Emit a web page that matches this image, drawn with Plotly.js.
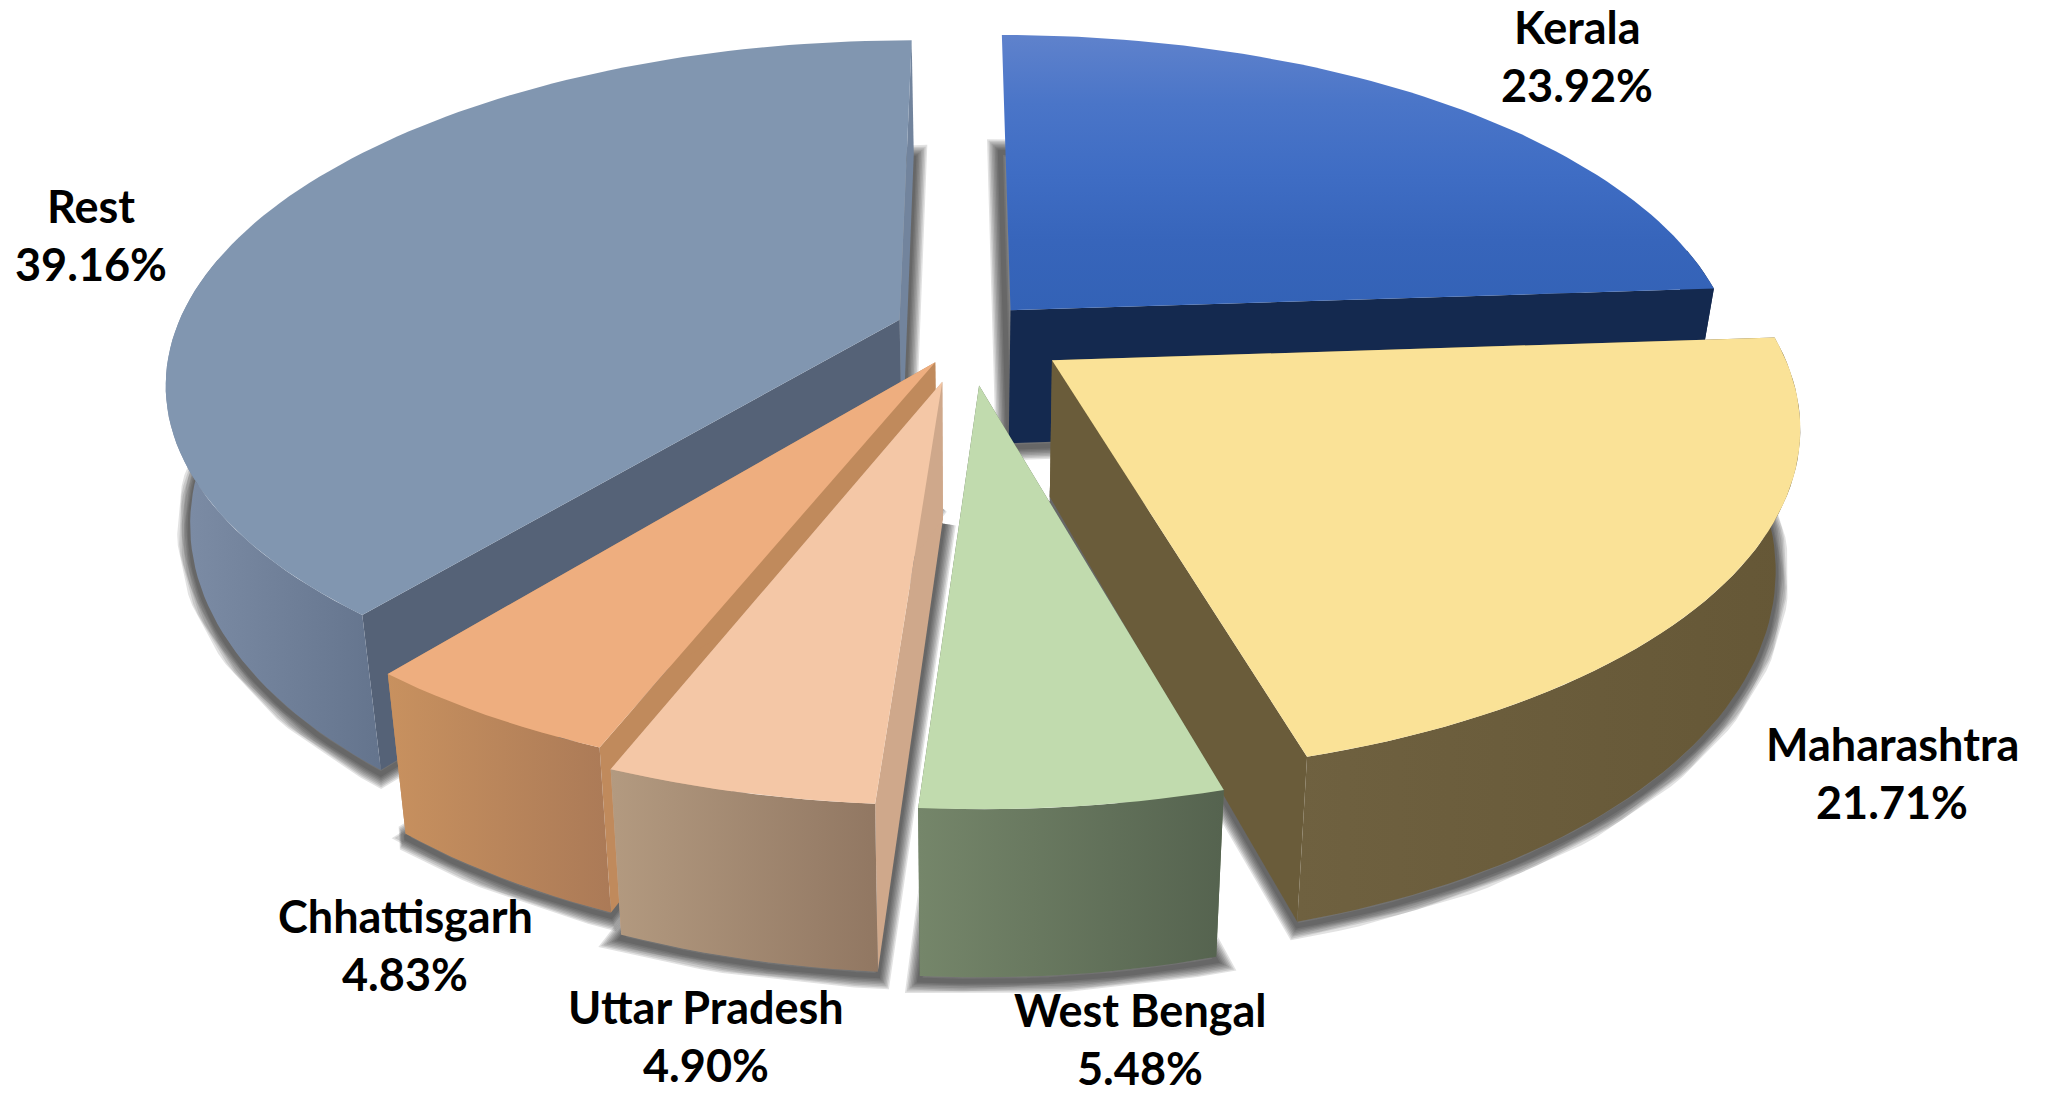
<!DOCTYPE html>
<html>
<head>
<meta charset="utf-8">
<script src="https://cdn.plot.ly/plotly-3.0.1.min.js"></script>
<style>html,body{margin:0;padding:0;background:#fff}#chart{width:2047px;height:1097px}</style>
</head>
<body>
<div id="chart"></div>
<script>
var categories = ['Kerala','Maharashtra','West Bengal','Uttar Pradesh','Chhattisgarh','Rest'];
var shares = [23.92,21.71,5.48,4.90,4.83,39.16];
var topColors = [['#3362b6','#3765bb','#3f6dc4','#4a75c8','#5f82cc'],['#fae297','#fae297'],['#c1dbae','#c1dbae'],['#f4c7a6','#f4c7a6'],['#eeae7f','#eeae7f'],['#8196b0','#8196b0']];
var arcColors = [['#14294f','#14294f'],['#6f6140','#655736'],['#75866a','#55634f'],['#b39a80','#917762'],['#c8915f','#ab7a57'],['#7e8ea7','#64748d']];
var startFace = [null,'#6a5c3a','#5a6a50','#cfa88b','#c08a5c','#556277'];
var endFace = ['#14294f','#6a5c3a','#5a6a50','#cfa88b','#c08a5c','#72849d'];
var drawOrder = [0,5,4,3,1,2];
var labelPos = [[1577,27],[1892,744],[1140,1010],[706,1007],[405,916],[91,206]];
var sliceNudge = [[-14,-3],[14,-5],[4,3],[-4,0],[14,-15],[15,-9]];

// view model
var CX=966, CY=342, RX=725, RY=333, PERSP=0.176, DEPTH=135, CONV=0.03, EXPLODE=0.12, LINEGAP=58, FONT=45;

function proj(X,Y,z,n){
  var w=1+PERSP*Y, s=1-CONV*z;
  return [CX+n[0]+RX*X/w*s, CY+n[1]-RY*Y/w+z*DEPTH/w];
}
function poly(pts,opts){
  var t={type:'scatter',mode:'lines',x:pts.map(function(p){return p[0]}).concat([pts[0][0]]),
    y:pts.map(function(p){return p[1]}).concat([pts[0][1]]),fill:'toself',hoverinfo:'skip',showlegend:false,
    line:{width:0}};
  for(var k in opts)t[k]=opts[k];
  return t;
}
function grad(colors,type){
  return {type:type,colorscale:colors.map(function(c,i){return [i/(colors.length-1),c]})};
}
var total=shares.reduce(function(a,b){return a+b},0);
var starts=[],acc=0;
shares.forEach(function(v){starts.push(acc/total*2*Math.PI);acc+=v;});

var traces=[];
drawOrder.forEach(function(i){
  var a0=starts[i], a1=a0+shares[i]/total*2*Math.PI, mid=(a0+a1)/2;
  var ox=EXPLODE*Math.sin(mid), oy=EXPLODE*Math.cos(mid), nd=sliceNudge[i];
  var n=Math.max(8,Math.round((a1-a0)*40));
  var arc=[], frontArc=[];
  for(var j=0;j<=n;j++){
    var t=a0+(a1-a0)*j/n, pt=[ox+Math.sin(t),oy+Math.cos(t)];
    arc.push(pt);
    if(Math.cos(t)<0.2) frontArc.push(pt);
  }
  function at(z){return function(p){return proj(p[0],p[1],z,nd)}}
  var topArc=arc.map(at(0)), botArc=arc.map(at(1));
  var apexT=proj(ox,oy,0,nd), apexB=proj(ox,oy,1,nd);
  // soft cast shadow under the slice
  var shadowPts=[apexB].concat(botArc).map(function(p){return [p[0],p[1]+4]});
  [26,23,20,17,14,11,8,5].forEach(function(wd){
    traces.push(poly(shadowPts,{fillcolor:'rgba(0,0,0,0)',line:{width:wd,color:'rgba(30,30,30,0.13)'}}));
  });
  // radial faces
  if(startFace[i]) traces.push(poly([apexT,topArc[0],botArc[0],apexB],{fillcolor:startFace[i]}));
  if(endFace[i]) traces.push(poly([apexT,topArc[n],botArc[n],apexB],{fillcolor:endFace[i]}));
  // outer wall, front part only
  if(frontArc.length>1){
    traces.push(poly(frontArc.map(at(0)).concat(frontArc.map(at(1)).reverse()),{fillcolor:arcColors[i][0],fillgradient:grad(arcColors[i],'horizontal')}));
  }
  // top
  traces.push(poly([apexT].concat(topArc),{fillcolor:topColors[i][0],fillgradient:grad(topColors[i],'vertical')}));
});

var annotations=[];
categories.forEach(function(c,i){
  var p=labelPos[i];
  [c,shares[i].toFixed(2)+'%'].forEach(function(txt,j){
    annotations.push({x:p[0],y:p[1]+j*LINEGAP,text:'<b>'+txt+'</b>',showarrow:false,xref:'x',yref:'y',
      xanchor:'center',yanchor:'middle',font:{family:'Lato',size:FONT,color:'#000'}});
  });
});

Plotly.newPlot('chart',traces,{
  width:2047,height:1097,margin:{l:0,r:0,t:0,b:0},paper_bgcolor:'#fff',plot_bgcolor:'#fff',showlegend:false,
  xaxis:{range:[0,2047],visible:false,fixedrange:true},
  yaxis:{range:[1097,0],visible:false,fixedrange:true},
  annotations:annotations
},{displayModeBar:false,staticPlot:true});
</script>
</body>
</html>
